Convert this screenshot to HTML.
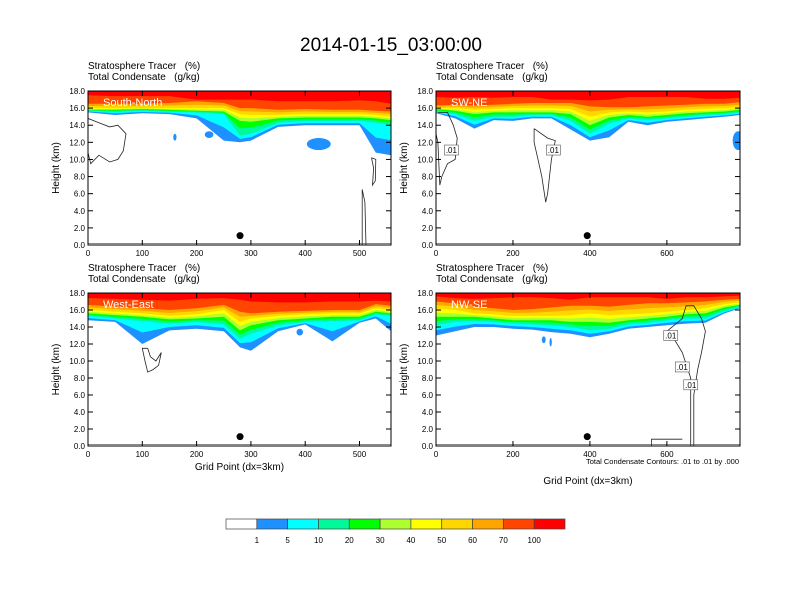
<!DOCTYPE html>
<html><head><meta charset="utf-8"><style>
html,body{margin:0;padding:0;background:#fff;}
svg{display:block;font-family:"Liberation Sans",sans-serif;}
text{white-space:pre;}
</style></head><body>
<svg id="chart" width="792" height="612" viewBox="0 0 792 612" xmlns="http://www.w3.org/2000/svg">
<text x="391" y="51" font-size="19" text-anchor="middle" textLength="182" lengthAdjust="spacingAndGlyphs">2014-01-15_03:00:00</text>
<g id="panels"></g>
<g id="colorbar"></g>
</svg>
<script>
const NS="http://www.w3.org/2000/svg";
const colors=["#ffffff","#1e90ff","#00ffff","#00fa9a","#00ff00","#adff2f","#ffff00","#ffd700","#ffa500","#ff4500","#ff0000"];
const cbLabels=["1","5","10","20","30","40","50","60","70","100"];
const yTicks=[0,2,4,6,8,10,12,14,16,18];

// Panel 1 (South-North)
const p1x=[0,50,100,150,200,250,280,300,350,400,450,500,530,558];
const p1b1=[15.5,15.2,15.4,15.3,14.8,12.2,12.0,12.2,13.8,14.0,14.0,14.0,10.8,10.5];
const p1b10=[15.7,15.6,15.7,15.6,15.5,15.3,12.8,13.0,14.3,14.5,14.5,14.5,14.3,14.0];
const p1b30=[15.8,15.8,15.9,15.8,15.7,15.6,14.5,14.4,14.8,14.9,14.9,14.9,14.8,14.6];
const p1b50=[16.0,16.0,16.0,16.0,16.0,16.0,15.3,15.2,15.2,15.3,15.3,15.3,15.2,15.0];
const p1b70=[16.5,16.5,16.5,16.6,16.8,16.6,16.0,16.0,15.8,15.9,15.8,15.8,15.7,15.6];
const p1b100=[17.5,17.4,17.4,17.4,17.0,17.0,17.0,17.0,16.8,16.8,16.8,16.9,16.8,16.5];
const p1blobs=[[425,11.8,22,0.7],[223,12.9,8,0.4],[160,12.6,3,0.4]];
const p1cont=[[[0,14.8],[20,14.3],[40,13.8],[55,14.0],[70,13.0],[65,11.0],[55,10.0],[40,9.7],[20,10.5],[5,9.5],[0,10.8]],[[505,0],[505,6.5],[510,5],[512,0]],[[522,10.2],[526,9],[524,7],[529,7.5],[530,10],[522,10.2]]];
// Panel 2 (SW-NE)
const p2x=[0,50,100,150,200,250,300,350,400,450,500,550,600,650,700,750,790];
const p2b1=[15.4,14.8,13.6,14.6,14.5,14.8,14.8,13.5,12.2,12.6,14.4,14.0,14.4,14.6,14.8,15.0,15.2];
const p2b10=[15.6,15.3,14.5,15.0,15.0,15.2,15.2,14.5,13.0,14.2,14.8,14.6,14.8,15.0,15.2,15.3,15.5];
const p2b30=[15.9,15.7,15.3,15.5,15.5,15.5,15.5,15.3,14.0,14.9,15.2,15.0,15.2,15.4,15.5,15.6,15.8];
const p2b50=[16.0,16.0,15.8,15.9,16.0,16.0,16.0,15.9,15.0,15.5,15.6,15.5,15.6,15.8,15.9,16.0,16.1];
const p2b70=[16.3,16.4,16.3,16.4,16.5,16.6,16.6,16.6,16.2,16.1,16.1,16.2,16.3,16.4,16.5,16.5,16.7];
const p2b100=[17.3,17.2,17.3,17.2,17.3,17.3,17.0,17.0,16.9,17.0,17.3,17.3,17.3,17.3,17.1,17.1,17.2];
const p2blobs=[[785,12.2,14,1.1]];
const p2cont=[[[5,15.5],[30,15.5],[45,14.0],[55,12.5],[50,10.0],[30,9.5],[15,8],[10,7.0],[5,12],[0,13]],[[255,13.6],[290,12.5],[310,12.2],[300,10.0],[295,8],[290,6],[285,5],[275,8],[265,10],[255,12],[255,13.6]]];
const p2lab=[[40,11.1],[305,11.1]];
// Panel 3 (West-East)
const p3x=[0,50,100,150,200,250,280,300,350,400,450,500,530,558];
const p3b1=[14.8,14.6,12.0,13.6,13.8,13.5,11.6,11.2,13.5,14.3,12.3,14.5,15.0,13.5];
const p3b10=[15.3,15.0,14.7,14.4,14.6,14.3,12.6,13.2,14.2,14.6,14.7,14.8,15.5,15.3];
const p3b30=[15.6,15.4,15.2,14.9,15.0,15.2,13.6,14.2,14.8,15.0,15.2,15.2,15.8,15.6];
const p3b50=[16.0,15.8,15.6,15.3,15.5,16.0,14.6,15.0,15.3,15.5,15.6,15.6,16.2,16.0];
const p3b70=[16.6,16.4,16.2,16.0,16.2,16.6,15.8,15.6,15.8,15.9,16.0,16.0,16.7,16.5];
const p3b100=[17.4,17.3,17.2,17.1,17.3,17.4,17.2,17.0,16.9,16.9,17.0,17.0,17.1,17.0];
const p3blobs=[[390,13.4,6,0.4]];
const p3cont=[[[110,11.5],[115,10.5],[125,10],[135,11],[130,9.5],[120,9],[110,8.7],[105,10],[100,11.5],[110,11.5]]];
// Panel 4 (NW-SE)
const p4x=[0,50,100,150,200,250,300,350,400,450,500,550,600,650,700,750,790];
const p4b1=[13.0,13.5,14.0,14.0,13.8,13.7,13.4,13.2,12.8,13.2,13.8,14.0,14.2,14.4,14.5,15.6,16.2];
const p4b10=[14.2,14.6,14.7,14.6,14.4,14.3,14.2,14.0,13.6,13.8,14.3,14.5,14.8,15.0,15.0,15.9,16.4];
const p4b30=[15.2,15.2,15.2,15.0,14.8,14.8,14.8,14.6,14.6,14.5,14.8,15.0,15.2,15.5,15.6,16.3,16.6];
const p4b50=[16.2,16.0,15.6,15.5,15.3,15.3,15.3,15.4,15.6,15.4,15.5,15.6,15.8,16.0,16.2,16.7,16.9];
const p4b70=[17.0,16.8,16.4,16.2,16.0,16.1,16.3,16.5,16.5,16.4,16.6,16.8,16.8,16.9,17.0,17.2,17.3];
const p4b100=[17.6,17.4,17.3,17.4,17.5,17.5,17.4,17.2,17.5,17.5,17.5,17.5,17.3,17.5,17.5,17.6,17.7];
const p4blobs=[[280,12.5,5,0.4],[298,12.2,3,0.5]];
const p4cont=[[[662,0],[662,8],[640,11],[620,12.5],[600,13.5],[640,15],[650,16.5],[670,16.5],[690,15],[700,13.5],[690,11],[680,9],[670,6],[670,0]],[[560,0],[560,0.8],[640,0.8]]];
const p4lab=[[610,13.0],[640,9.3],[662,7.2]];

const panels=[
 {name:"south-north",label:"South-North",L:88,T:91,W:303,H:154,xmax:558,xt:[0,100,200,300,400,500],x:p1x,b:[p1b1,p1b10,p1b30,p1b50,p1b70,p1b100],blobs:p1blobs,cont:p1cont,lab:[],dot:280,xtitle:false},
 {name:"sw-ne",label:"SW-NE",L:436,T:91,W:304,H:154,xmax:790,xt:[0,200,400,600],x:p2x,b:[p2b1,p2b10,p2b30,p2b50,p2b70,p2b100],blobs:p2blobs,cont:p2cont,lab:p2lab,dot:393,xtitle:false},
 {name:"west-east",label:"West-East",L:88,T:293,W:303,H:153,xmax:558,xt:[0,100,200,300,400,500],x:p3x,b:[p3b1,p3b10,p3b30,p3b50,p3b70,p3b100],blobs:p3blobs,cont:p3cont,lab:[],dot:280,xtitle:true},
 {name:"nw-se",label:"NW-SE",L:436,T:293,W:304,H:153,xmax:790,xt:[0,200,400,600],x:p4x,b:[p4b1,p4b10,p4b30,p4b50,p4b70,p4b100],blobs:p4blobs,cont:p4cont,lab:p4lab,dot:393,xtitle:true,note:true}
];
function mk(tag,attrs,parent){const e=document.createElementNS(NS,tag);for(const k in attrs)e.setAttribute(k,attrs[k]);parent.appendChild(e);return e;}
const root=document.getElementById("panels");
panels.forEach(p=>{
 const g=mk("g",{},root);
 
 
 const sx=v=>p.L+v/p.xmax*p.W, sy=v=>p.T+p.H-v/18*p.H;
 const t1=mk("text",{x:p.L,y:p.T-22,"font-size":"10"},g);t1.textContent="Stratosphere Tracer   (%)";
 
 
 const t2=mk("text",{x:p.L,y:p.T-11,"font-size":"10"},g);t2.textContent="Total Condensate   (g/kg)";
 
 
 const cp="clip-"+p.name;
 const cl=mk("clipPath",{id:cp},g);mk("rect",{x:p.L,y:p.T,width:p.W,height:p.H},cl);
 const fg=mk("g",{"clip-path":"url(#"+cp+")"},g);
 const B=p.b; const mid=(a,c)=>a.map((v,i)=>(v+c[i])/2);
 const levels=[B[0],mid(B[0],B[1]),B[1],mid(B[1],B[2]),B[2],mid(B[2],B[3]),B[3],mid(B[3],B[4]),B[4],B[5]];
 levels.forEach((arr,li)=>{
  let d="M"+sx(p.x[0])+","+sy(18.5);
  p.x.forEach((xv,i)=>{d+=" L"+sx(xv).toFixed(1)+","+sy(arr[i]).toFixed(1);});
  d+=" L"+sx(p.x[p.x.length-1])+","+sy(18.5)+"Z";
  const pa=mk("path",{d:d,fill:colors[li+1]},fg);
  
  
 });
 p.blobs.forEach(bl=>{
  const e=mk("ellipse",{cx:sx(bl[0]),cy:sy(bl[1]),rx:bl[2]/p.xmax*p.W,ry:bl[3]/18*p.H,fill:colors[1]},fg);
  
  
 });
 p.cont.forEach(c=>{
  const pl=mk("polyline",{points:c.map(q=>sx(q[0]).toFixed(1)+","+sy(q[1]).toFixed(1)).join(" "),fill:"none",stroke:"#222","stroke-width":"0.8"},fg);
  
  
 });
 p.lab.forEach(l=>{
  const r=mk("rect",{x:sx(l[0])-7,y:sy(l[1])-5,width:14,height:10,fill:"#fff",stroke:"#555","stroke-width":"0.6"},fg);
  
  
  const tt=mk("text",{x:sx(l[0]),y:sy(l[1])+3,"font-size":"8","text-anchor":"middle"},fg);tt.textContent=".01";
  
  
 });
 const lb=mk("text",{x:p.L+15,y:p.T+15,"font-size":"11",fill:"#fff"},g);lb.textContent=p.label;
 
 
 const dot=mk("circle",{cx:sx(p.dot),cy:sy(1.1),r:3.5,fill:"#000"},g);
 
 
 mk("line",{x1:p.L,y1:sy(0.15),x2:p.L+p.W,y2:sy(0.15),stroke:"#444","stroke-width":"0.6"},g);
 const fr=mk("rect",{x:p.L,y:p.T,width:p.W,height:p.H,fill:"none",stroke:"#000","stroke-width":"1"},g);
 
 
 yTicks.forEach(v=>{
  mk("line",{x1:p.L,y1:sy(v),x2:p.L+5,y2:sy(v),stroke:"#000"},g);
  mk("line",{x1:p.L+p.W,y1:sy(v),x2:p.L+p.W-5,y2:sy(v),stroke:"#000"},g);
  const t=mk("text",{x:p.L-3,y:sy(v)+3,"font-size":"8","text-anchor":"end"},g);t.textContent=v.toFixed(1);
  
  
 });
 p.xt.forEach(v=>{
  mk("line",{x1:sx(v),y1:p.T+p.H,x2:sx(v),y2:p.T+p.H-5,stroke:"#000"},g);
  mk("line",{x1:sx(v),y1:p.T,x2:sx(v),y2:p.T+5,stroke:"#000"},g);
  const t=mk("text",{x:sx(v),y:p.T+p.H+11,"font-size":"8","text-anchor":"middle"},g);t.textContent=v;
  
  
 });
 const yt=mk("text",{x:0,y:0,"font-size":"10","text-anchor":"middle",transform:"translate("+(p.L-29)+","+(p.T+p.H/2)+") rotate(-90)"},g);yt.textContent="Height (km)";
 
 
 if(p.note){const n=mk("text",{x:p.L+p.W-1,y:p.T+p.H+18,"font-size":"7.5","text-anchor":"end"},g);n.textContent="Total Condensate Contours: .01 to .01 by .000";
  
  }
 if(p.xtitle){const xt=mk("text",{x:p.L+p.W/2,y:p.note?p.T+p.H+38:p.T+p.H+24,"font-size":"10","text-anchor":"middle"},g);xt.textContent="Grid Point (dx=3km)";
  
  }
});
const cb=document.getElementById("colorbar");
const cbL=226,cbW=339,cbT=519,cbH=10,bw=cbW/colors.length;
colors.forEach((c,i)=>{
 const r=mk("rect",{x:cbL+i*bw,y:cbT,width:bw,height:cbH,fill:c,stroke:"#444","stroke-width":"0.7"},cb);
 
 
});
cbLabels.forEach((l,i)=>{
 const t=mk("text",{x:cbL+(i+1)*bw,y:cbT+24,"font-size":"8","text-anchor":"middle"},cb);t.textContent=l;
 
 
});
</script>
</body></html>
